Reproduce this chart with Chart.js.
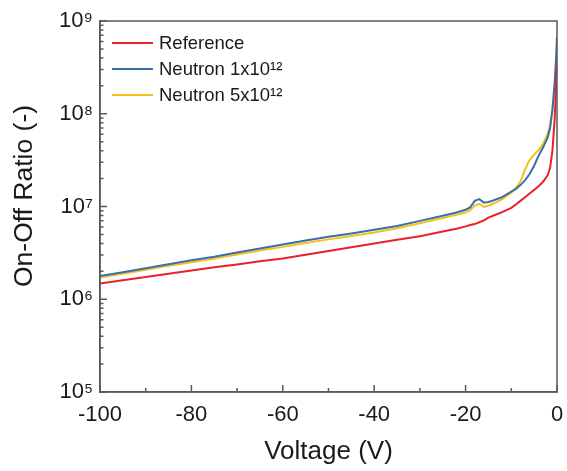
<!DOCTYPE html>
<html lang="en">
<head>
  <meta charset="UTF-8">
  <title>On-Off Ratio vs Voltage</title>
  <script src="https://cdn.jsdelivr.net/npm/chart.js"></script>
  <style>
    html, body { margin: 0; padding: 0; background: #fff; }
    #wrap { width: 567px; height: 471px; }
  </style>
</head>
<body>
  <div id="wrap"><canvas id="grafico"></canvas></div>

<script>
  // tensão (V)
  const voltage = [-100, -95, -90, -85, -80, -75, -70, -65, -60, -55, -50, -45, -40, -35, -30, -25,
    -22, -20, -19, -18, -17, -16, -15, -14, -12, -10, -9, -8, -7, -6, -5, -4, -3, -2, -1.5, -1, -0.5, -0.2, 0];

  const reference = [1.48e6, 1.60e6, 1.74e6, 1.88e6, 2.04e6, 2.21e6, 2.37e6, 2.57e6, 2.75e6, 3.02e6,
    3.31e6, 3.63e6, 3.98e6, 4.37e6, 4.79e6, 5.37e6, 5.75e6, 6.10e6, 6.31e6, 6.46e6, 6.76e6, 7.08e6,
    7.59e6, 7.94e6, 8.71e6, 9.66e6, 1.05e7, 1.15e7, 1.26e7, 1.38e7, 1.51e7, 1.66e7, 1.86e7, 2.19e7,
    2.63e7, 3.98e7, 8.91e7, 2.0e8, 3.55e8];

  const neutron1 = [1.78e6, 1.95e6, 2.16e6, 2.39e6, 2.63e6, 2.88e6, 3.20e6, 3.53e6, 3.89e6, 4.30e6,
    4.73e6, 5.13e6, 5.60e6, 6.17e6, 7.00e6, 7.94e6, 8.61e6, 9.23e6, 9.77e6, 1.15e7, 1.20e7, 1.10e7,
    1.12e7, 1.16e7, 1.26e7, 1.45e7, 1.55e7, 1.70e7, 1.91e7, 2.24e7, 2.75e7, 3.55e7, 4.37e7, 5.62e7,
    7.08e7, 1.10e8, 2.24e8, 3.98e8, 6.76e8];

  const neutron5 = [1.72e6, 1.88e6, 2.08e6, 2.29e6, 2.51e6, 2.75e6, 3.04e6, 3.35e6, 3.67e6, 4.03e6,
    4.42e6, 4.82e6, 5.25e6, 5.82e6, 6.61e6, 7.50e6, 8.13e6, 8.61e6, 9.12e6, 1.02e7, 1.07e7, 9.89e6,
    1.02e7, 1.07e7, 1.20e7, 1.41e7, 1.58e7, 1.86e7, 2.51e7, 3.16e7, 3.63e7, 4.07e7, 4.79e7, 6.17e7,
    7.59e7, 1.12e8, 1.78e8, 2.51e8, 3.16e8];

  const seriesNames = ['Reference', 'Neutron 1x10\u00B9\u00B2', 'Neutron 5x10\u00B9\u00B2'];
  const xTicks = [-100, -80, -60, -40, -20, 0];
  const xMinor = [-90, -70, -50, -30, -10];
  const yTicks = [1e5, 1e6, 1e7, 1e8, 1e9];
  const sup = { 5: '\u2075', 6: '\u2076', 7: '\u2077', 8: '\u2078', 9: '\u2079' };
  const yTitle = 'On-Off Ratio (-)';

  const fonte = "'Liberation Sans', Arial, sans-serif";
  const corEixo = '#5a5a5a';

  function pontos(ys) {
    return voltage.map((v, i) => ({ x: v, y: ys[i] }));
  }

  // moldura + ticks para dentro + legenda + título do eixo y
  const extras = {
    id: 'extras',
    afterDraw(chart) {
      const ctx = chart.ctx;
      const a = chart.chartArea;
      const sx = chart.scales.x, sy = chart.scales.y;
      ctx.save();
      ctx.strokeStyle = corEixo;
      ctx.lineWidth = 1.5;
      ctx.strokeRect(a.left, a.top, a.right - a.left, a.bottom - a.top);

      ctx.beginPath();
      xTicks.forEach(v => {
        const px = sx.getPixelForValue(v);
        ctx.moveTo(px, a.bottom); ctx.lineTo(px, a.bottom - 7);
      });
      xMinor.forEach(v => {
        const px = sx.getPixelForValue(v);
        ctx.moveTo(px, a.bottom); ctx.lineTo(px, a.bottom - 4);
      });
      yTicks.forEach(v => {
        const py = sy.getPixelForValue(v);
        ctx.moveTo(a.left, py); ctx.lineTo(a.left + 7, py);
        if (v < 1e9) {
          for (let k = 2; k <= 9; k++) {
            const pm = sy.getPixelForValue(v * k);
            ctx.moveTo(a.left, pm); ctx.lineTo(a.left + 3.5, pm);
          }
        }
      });
      ctx.stroke();

      // legenda
      ctx.font = '18.5px ' + fonte;
      ctx.textBaseline = 'middle';
      ctx.fillStyle = '#1a1a1a';
      chart.data.datasets.forEach((ds, i) => {
        const y = a.top + 22 + i * 26;
        ctx.strokeStyle = ds.borderColor;
        ctx.lineWidth = 2;
        ctx.beginPath();
        ctx.moveTo(a.left + 12, y); ctx.lineTo(a.left + 53, y);
        ctx.stroke();
        ctx.fillText(ds.label, a.left + 59, y + 1);
      });

      // título do eixo y
      ctx.translate(25, 196);
      ctx.rotate(-Math.PI / 2);
      ctx.textAlign = 'center';
      ctx.font = '26.5px ' + fonte;
      ctx.fillText(yTitle, 0, 0);
      ctx.restore();
    }
  };

  const dados = {
    datasets: [
      { label: seriesNames[0], data: pontos(reference), borderColor: '#e8212b' },
      { label: seriesNames[1], data: pontos(neutron1), borderColor: '#3b6ea8' },
      { label: seriesNames[2], data: pontos(neutron5), borderColor: '#f2c21b' }
    ]
  };

  const config = {
    type: 'line',
    data: dados,
    options: {
      responsive: true,
      maintainAspectRatio: false,
      animation: false,
      layout: { padding: { top: 21, right: 10, left: 0, bottom: 0 } },
      elements: {
        line: { borderWidth: 2, tension: 0 },
        point: { radius: 0 }
      },
      plugins: {
        legend: { display: false },
        tooltip: { enabled: false }
      },
      scales: {
        x: {
          type: 'linear',
          min: -100,
          max: 0,
          afterBuildTicks: s => { s.ticks = xTicks.map(v => ({ value: v })); },
          afterFit: s => { s.height = 79; s.paddingRight = 0; s.paddingLeft = 0; },
          grid: { display: false, drawTicks: false },
          border: { display: true, color: corEixo, width: 1.5 },
          ticks: {
            color: '#1a1a1a',
            font: { family: fonte, size: 22 },
            padding: 10,
            maxRotation: 0
          },
          title: {
            display: true,
            text: 'Voltage (V)',
            color: '#1a1a1a',
            font: { family: fonte, size: 26 },
            padding: { top: 0, bottom: 4 }
          }
        },
        y: {
          type: 'logarithmic',
          min: 1e5,
          max: 1e9,
          afterBuildTicks: s => { s.ticks = yTicks.map(v => ({ value: v })); },
          afterFit: s => { s.width = 100; s.paddingTop = 0; s.paddingBottom = 0; },
          grid: { display: false, drawTicks: false },
          border: { display: true, color: corEixo, width: 1.5 },
          ticks: {
            color: '#1a1a1a',
            font: { family: fonte, size: 22 },
            padding: 7,
            callback: v => '10' + sup[Math.round(Math.log10(v))]
          }
        }
      }
    },
    plugins: [extras]
  };

  let myChart = new Chart(document.getElementById('grafico'), config);
</script>
</body>
</html>
